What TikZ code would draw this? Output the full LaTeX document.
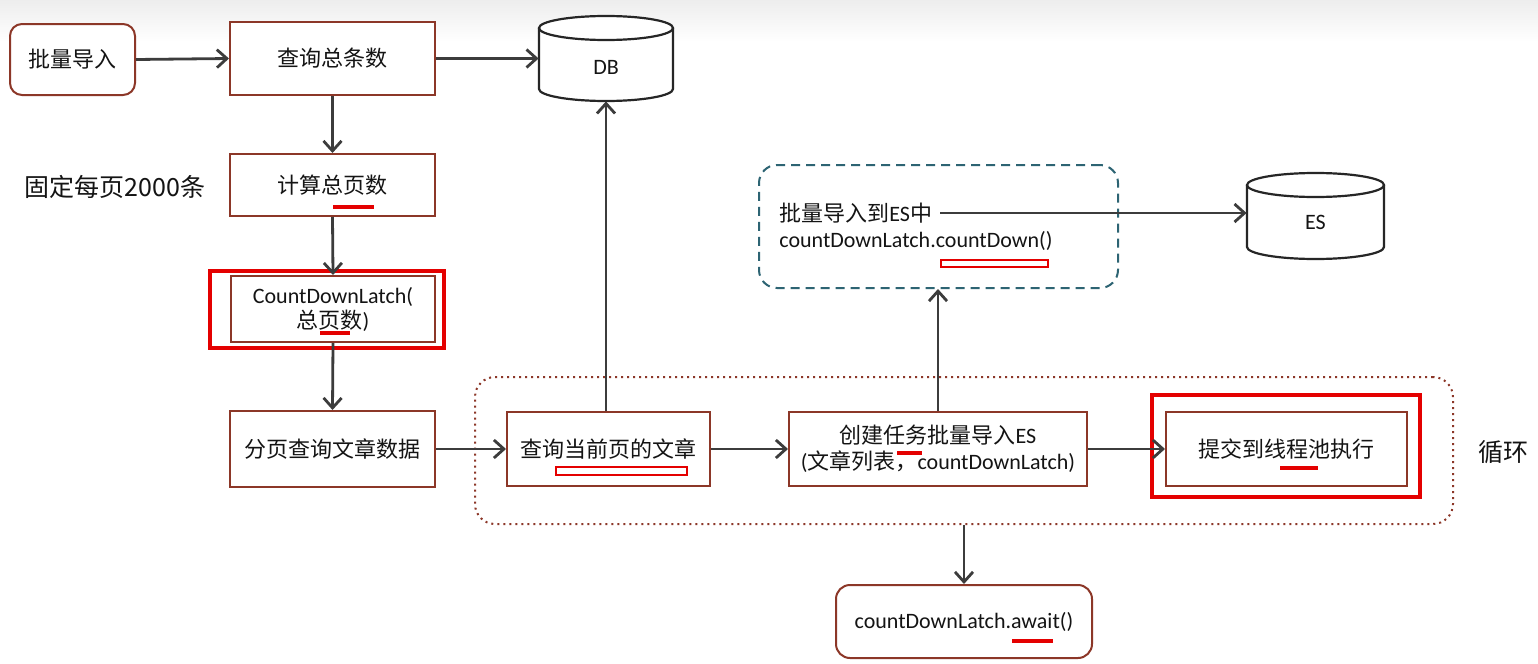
\documentclass[tikz,border=0pt]{standalone}
\usepackage{fontspec}
\setmainfont{Carlito}
\newfontfamily\cjk{Noto Sans CJK SC}
\newcommand\zh[1]{{\cjk #1}}
\usetikzlibrary{arrows.meta,calc}
\definecolor{boxbrown}{RGB}{140,55,40}
\definecolor{arrowgray}{RGB}{60,60,60}
\definecolor{tealc}{RGB}{45,100,115}
\definecolor{redc}{RGB}{228,0,0}
\definecolor{txt}{RGB}{20,20,20}
\tikzset{
  box/.style={draw=boxbrown, line width=1pt, fill=white, inner sep=0pt, align=center, text=txt, font=\fontsize{11}{13}\selectfont},
  arr/.style={draw=arrowgray, line width=1.4pt, -{Straight Barb[length=5pt,width=9pt,line width=1.4pt]}},
  redframe/.style={draw=redc, line width=1.7pt, inner sep=0pt},
  redbar/.style={fill=redc},
  redhollow/.style={draw=redc, line width=1.3pt, fill=white},
  cylstyle/.style={draw=black!85, line width=1.1pt, fill=white},
  plain/.style={inner sep=0pt, text=txt, font=\fontsize{11}{13}\selectfont},
}
\begin{document}
\begin{tikzpicture}[x=0.5pt,y=-0.5pt]
\useasboundingbox (0,0) rectangle (1538,664);
\fill[white] (0,0) rectangle (1538,664);
\shade[top color=black!7, bottom color=white] (0,0) rectangle (1538,42);

% loop region
\node (loop) [draw=boxbrown, line width=1pt, dotted, rounded corners=10pt, minimum width=489pt, minimum height=73.5pt, inner sep=0pt] at (964,450.5) {};
\node (looplbl) [plain, font=\fontsize{12.5}{14}\selectfont] at (1503,452) {\zh{循环}};

% dashed ES task box
\node (dbox) [draw=tealc, line width=1pt, dash pattern=on 4.5pt off 3pt, rounded corners=9pt, minimum width=179.5pt, minimum height=61.5pt, inner sep=0pt] at (938.5,226.5) {};
\node (t1) [plain, anchor=west, inner xsep=4pt] at (771,213) {\zh{批量导入到}ES\zh{中}};
\node (t2) [plain, anchor=west] at (779,241) {countDownLatch.countDown()};

% cylinders
\filldraw[cylstyle] (539,28) -- (539,89) arc[start angle=180,end angle=360,x radius=33.5pt,y radius=6pt] -- (673,28);
\draw[cylstyle] (606,28) ellipse[x radius=33.5pt,y radius=6pt];
\node (db) [minimum width=67pt, minimum height=42.5pt, inner sep=0pt] at (606,58.5) {};
\node (dblabel) [plain] at (606,67) {DB};

\filldraw[cylstyle] (1247,185) -- (1247,247) arc[start angle=180,end angle=360,x radius=34.25pt,y radius=6pt] -- (1384,185);
\draw[cylstyle] (1315.5,185) ellipse[x radius=34.25pt,y radius=6pt];
\node (es) [minimum width=68.5pt, minimum height=43pt, inner sep=0pt] at (1315.5,216) {};
\node (eslabel) [plain] at (1315.5,222) {ES};

% left column
\node (imp) [box, rounded corners=6pt, minimum width=62.5pt, minimum height=35.5pt] at (72.5,59.5) {\zh{批量导入}};
\node (qz) [box, minimum width=102.5pt, minimum height=36.5pt] at (332.5,58.5) {\zh{查询总条数}};
\node (calc) [box, minimum width=102.5pt, minimum height=31pt] at (332.5,185) {\zh{计算总页数}};
\node (fix) [plain, font=\fontsize{12.5}{14}\selectfont] at (115,187) {\zh{固定每页2000条}};
\node (cdlr) [redframe, minimum width=117pt, minimum height=38.5pt] at (327,309.5) {};
\node (cdl) [box, minimum width=102pt, minimum height=33pt, font=\fontsize{11}{12.5}\selectfont] at (333,309) {CountDownLatch(\\\zh{总页数})};
\node (page) [box, minimum width=102.5pt, minimum height=38pt] at (332.5,449) {\zh{分页查询文章数据}};

% loop content
\node (cur) [box, minimum width=101.5pt, minimum height=37pt] at (608.5,449) {\zh{查询当前页的文章}};
\node (task) [box, minimum width=149pt, minimum height=37pt] at (938,449) {\zh{创建任务批量导入}ES\\(\zh{文章列表，}countDownLatch)};
\node (subr) [redframe, minimum width=134pt, minimum height=51pt] at (1286,446) {};
\node (sub) [box, minimum width=120.5pt, minimum height=37pt] at (1286.5,449) {\zh{提交到线程池执行}};

\node (await) [box, rounded corners=7pt, minimum width=128pt, minimum height=36.5pt] at (964,621.5) {countDownLatch.await()};

% arrows
\draw[arr] (imp.east) -- (qz.west);
\draw[arr] (qz.east) -- (db.west);
\draw[arr] (qz.south) -- (calc.north);
\draw[arr] (calc.south) -- (cdl.north);
\draw[arr] (cdl.south) -- (page.north);
\draw[arr] (page.east) -- (cur.west);
\draw[arr] (db.south |- cur.north) -- (db.south);
\draw[arr] (cur.east) -- (task.west);
\draw[arr] (task.east) -- (sub.west);
\draw[arr] (task.north) -- (task.north |- dbox.south);
\draw[arr] (t1.east) -- (t1.east -| es.west);
\draw[arr] (await.north |- loop.south) -- (await.north);

% red marks
\fill[redbar] (333,205) rectangle (374,209);
\fill[redbar] (320,331) rectangle (350,335);
\filldraw[redhollow] (556,467) rectangle (687,475);
\fill[redbar] (897,451) rectangle (922,455);
\fill[redbar] (1280,466) rectangle (1318,470);
\filldraw[redhollow] (941,260) rectangle (1048,267);
\fill[redbar] (1012,639) rectangle (1053,643);
\end{tikzpicture}
\end{document}
